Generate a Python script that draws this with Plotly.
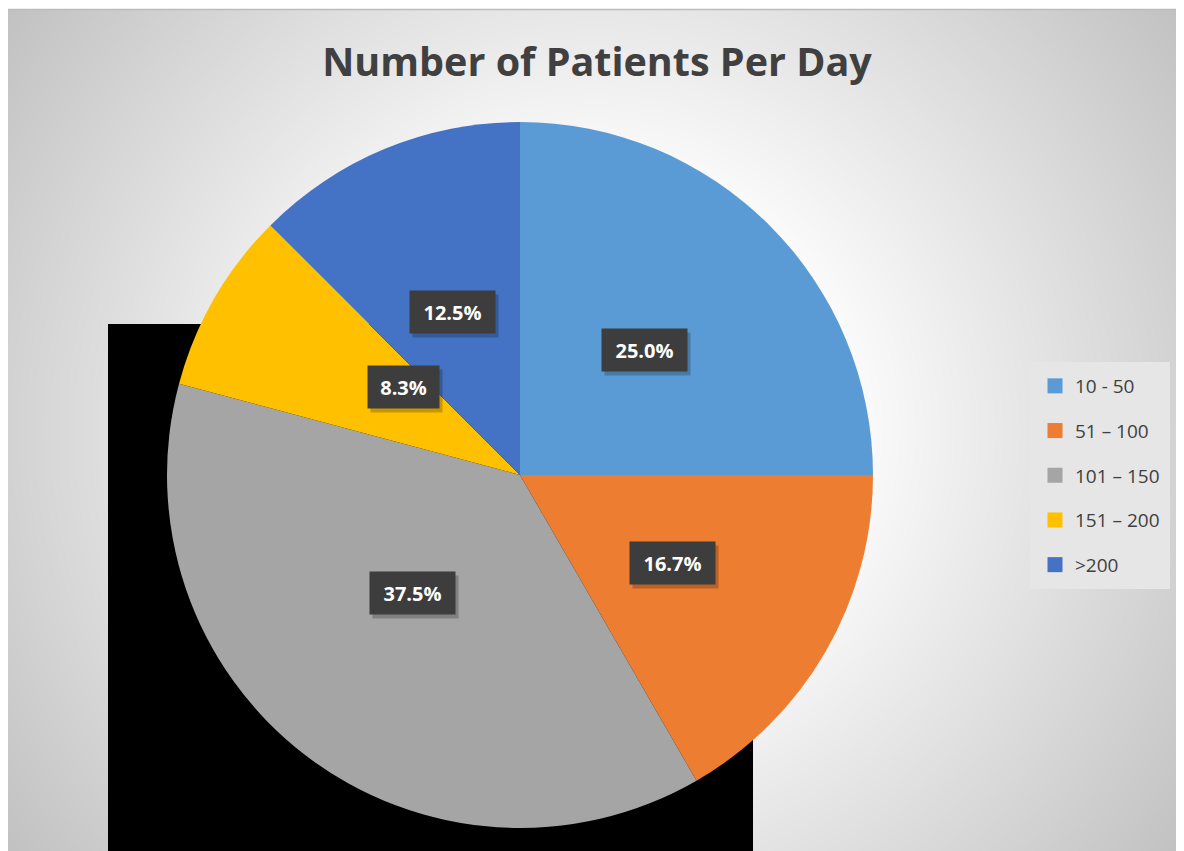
import math
import plotly.graph_objects as go

# ---- data ----
categories = ["10 - 50", "51 – 100", "101 – 150", "151 – 200", ">200"]
counts = [6, 4, 9, 2, 3]
colors = ["#5B9BD5", "#ED7D31", "#A5A5A5", "#FFC000", "#4472C4"]
title_text = "Number of Patients Per Day"

# page body has an 8px margin, so the figure is drawn 8px in from the window
OFF = 8
W, H = 1184 - OFF, 851 - OFF
CX, CY, R = 520, 475, 353  # pie centre / radius in window px


def px_x(x):
    return (x - OFF) / W


def px_y(y):
    return 1 - (y - OFF) / H


fig = go.Figure()

fig.add_trace(go.Pie(
    labels=categories, values=counts, sort=False, direction="clockwise",
    rotation=0, marker=dict(colors=colors, line=dict(width=0)),
    textinfo="none", hoverinfo="label+percent", showlegend=False,
    domain=dict(x=[px_x(CX - R), px_x(CX + R)], y=[px_y(CY + R), px_y(CY - R)]),
))

# legend entries (one group per category so spacing can be set)
for i, (cat, col) in enumerate(zip(categories, colors)):
    fig.add_trace(go.Scatter(
        x=[None], y=[None], mode="markers", name=cat, legendgroup=f"g{i}",
        marker=dict(symbol="square", size=15, color=col), showlegend=True,
    ))

shapes = []
# radial background gradient
gcx, gcy = 595, 430
for r in range(760, 260, -8):
    t = min(max((r - 270) / (720 - 270), 0), 1)
    L = int(round(250 - (250 - 194) * t))
    shapes.append(dict(type="circle", xref="paper", yref="paper", layer="below",
                       x0=px_x(gcx - r), x1=px_x(gcx + r),
                       y0=px_y(gcy + r), y1=px_y(gcy - r),
                       fillcolor=f"rgb({L},{L},{L})", line=dict(width=0)))
# white outer margins
shapes.append(dict(type="rect", xref="paper", yref="paper", layer="below",
                   x0=-0.1, x1=px_x(6), y0=-0.1, y1=1.1, fillcolor="white", line=dict(width=0)))
shapes.append(dict(type="rect", xref="paper", yref="paper", layer="below",
                   x0=-0.1, x1=1.1, y0=px_y(9), y1=1.1, fillcolor="white", line=dict(width=0)))
shapes.append(dict(type="rect", xref="paper", yref="paper", layer="below",
                   x0=px_x(6.5), x1=px_x(1190), y0=px_y(860), y1=px_y(9.5),
                   fillcolor="rgba(0,0,0,0)", line=dict(width=1.5, color="#bcbcbc")))
# black rectangle behind the pie
shapes.append(dict(type="rect", xref="paper", yref="paper", layer="below",
                   x0=px_x(108), x1=px_x(753), y0=px_y(870), y1=px_y(324),
                   fillcolor="black", line=dict(width=0)))

# data labels at half radius along each slice's mid-angle
annotations = []
total = sum(counts)
cum = 0
for v in counts:
    mid = (cum + v / 2) / total * 2 * math.pi
    cum += v
    lx = CX + 0.5 * R * math.sin(mid)
    ly = CY - 0.5 * R * math.cos(mid)
    txt = f"{100 * v / total:.1f}%"
    bw = 14 * len(txt) - 1
    annotations.append(dict(
        x=px_x(lx), y=px_y(ly), xref="paper", yref="paper", text="&nbsp;",
        showarrow=False, font=dict(family="Open Sans", size=20, color="rgba(0,0,0,0)"),
        bgcolor="rgba(0,0,0,0.22)", borderpad=8, width=bw, height=26,
        xshift=3, yshift=-4))
    annotations.append(dict(
        x=px_x(lx), y=px_y(ly), xref="paper", yref="paper", text=f"<b>{txt}</b>",
        showarrow=False, font=dict(family="Open Sans", size=20, color="white"),
        bgcolor="#3d3d3d", borderpad=8, width=bw, height=26))

fig.update_layout(
    width=W, height=H,
    margin=dict(l=0, r=0, t=0, b=0),
    paper_bgcolor="white", plot_bgcolor="rgba(0,0,0,0)",
    xaxis=dict(visible=False), yaxis=dict(visible=False),
    title=dict(text=f"<b>{title_text}</b>", x=px_x(597), xanchor="center",
               y=px_y(62), yanchor="middle",
               font=dict(family="Open Sans", size=39.5, color="#404040")),
    legend=dict(x=px_x(1030), xanchor="left", y=px_y(362), yanchor="top",
                bgcolor="#e6e6e6", bordercolor="#e6e6e6", borderwidth=5,
                font=dict(family="Open Sans", size=19, color="#404040"),
                tracegroupgap=17, itemclick=False),
    shapes=shapes, annotations=annotations,
)

fig.write_html("out.html")
